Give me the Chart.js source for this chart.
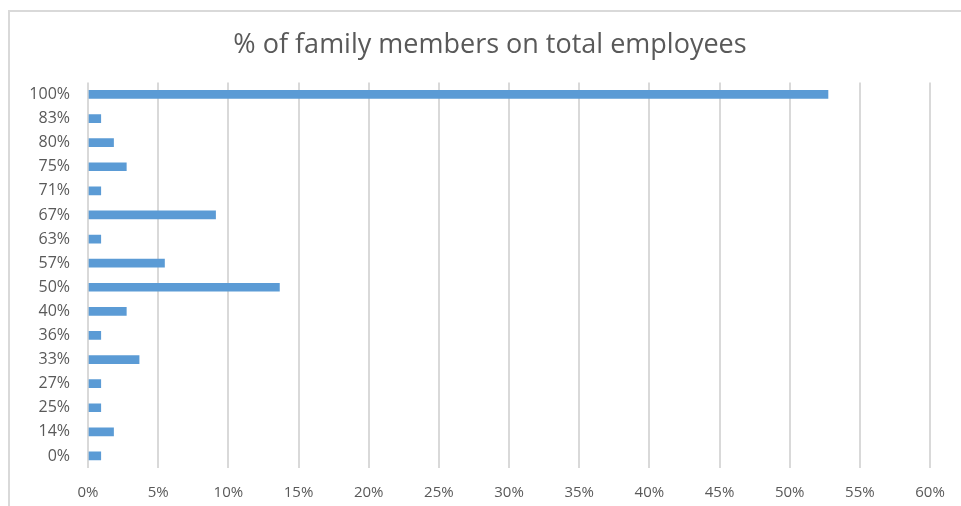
<!DOCTYPE html>
<html>
<head>
<meta charset="utf-8">
<script src="https://cdn.jsdelivr.net/npm/chart.js@4/dist/chart.umd.min.js"></script>
<style>
  body { margin: 0; background: #fff; }
  #wrap { position: relative; width: 961px; height: 506px; }
  #frame { position: absolute; left: 8px; top: 10px; width: 960px; height: 500px;
           border-left: 2px solid #d9d9d9; border-top: 2px solid #d9d9d9; }
  canvas { position: absolute; left: 0; top: 0; }
</style>
</head>
<body>
<div id="wrap">
  <div id="frame"></div>
  <canvas id="myChart" width="961" height="506"></canvas>
</div>
<script>
// share of family members on total employees (category) and % of firms
var categorias = ['100%', '83%', '80%', '75%', '71%', '67%', '63%', '57%', '50%', '40%', '36%', '33%', '27%', '25%', '14%', '0%']
var valores = [52.73, 0.91, 1.82, 2.73, 0.91, 9.09, 0.91, 5.45, 13.64, 2.73, 0.91, 3.64, 0.91, 0.91, 1.82, 0.91]
var titulo = '% of family members on total employees'

var fuente = "'Open Sans', sans-serif"
var gris = '#595959'

var ctx = document.getElementById('myChart').getContext('2d');
var chart = new Chart(ctx, {
    type: 'bar',
    data: {
        labels: categorias,
        datasets: [{
            label: 'firms',
            backgroundColor: '#5b9bd5',
            data: valores,
            barThickness: 8
        }]
    },
    options: {
        indexAxis: 'y',
        responsive: false,
        animation: false,
        layout: { padding: { left: 50, right: 31, top: 0, bottom: 0 } },
        plugins: {
            legend: { display: false },
            tooltip: { enabled: false },
            title: {
                display: true,
                text: titulo,
                color: gris,
                font: { family: fuente, size: 27, weight: 'normal' },
                padding: { top: 29, bottom: 21 }
            }
        },
        scales: {
            x: {
                min: 0,
                max: 60,
                ticks: {
                    stepSize: 5,
                    color: gris,
                    padding: 16,
                    font: { family: fuente, size: 15 },
                    callback: function (v) { return v + '%' }
                },
                grid: { color: '#d9d9d9', lineWidth: 2, drawTicks: false },
                border: { display: false },
                afterFit: function (scale) { scale.height = 38 }
            },
            y: {
                ticks: {
                    color: gris,
                    padding: 18,
                    font: { family: fuente, size: 16 }
                },
                grid: { display: false, drawTicks: false },
                border: { display: false },
                afterFit: function (scale) {
                    scale.width = 38
                    // labels run left of the layout box, so no clipping
                    scale._computeLabelArea = function () { return undefined }
                }
            }
        }
    }
});
</script>
</body>
</html>
